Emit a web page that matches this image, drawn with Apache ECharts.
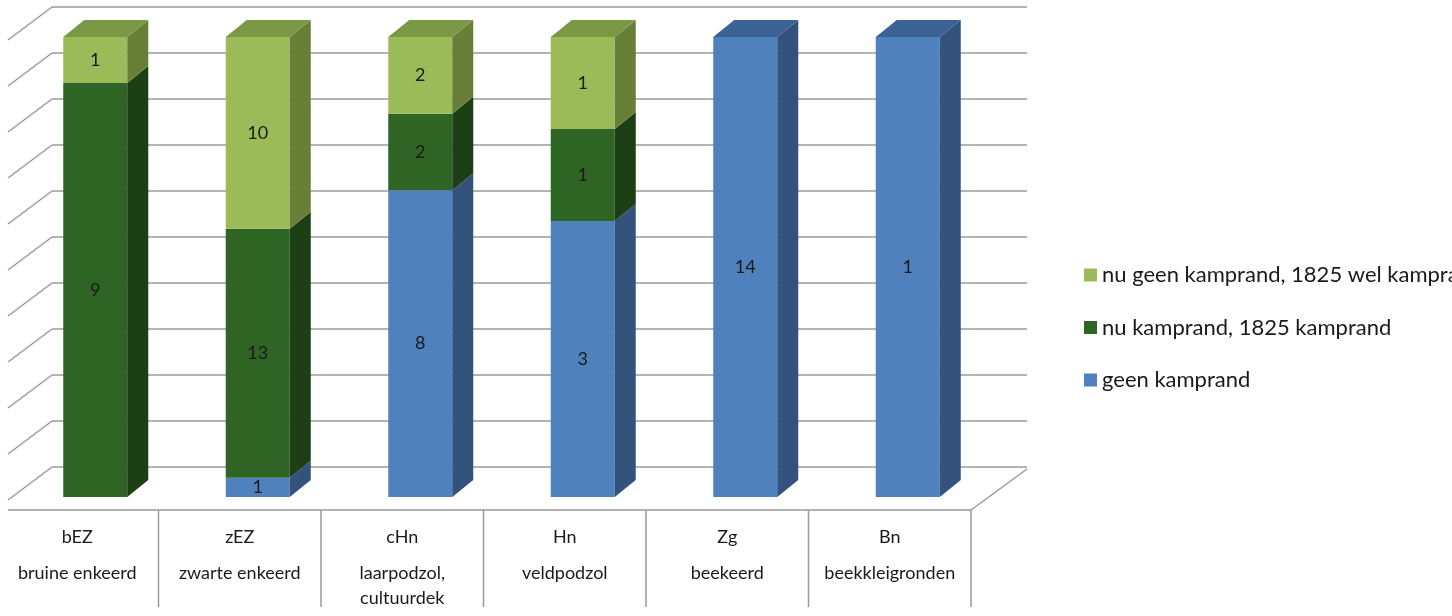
<!DOCTYPE html>
<html>
<head>
<meta charset="utf-8">
<script src="https://cdn.jsdelivr.net/npm/echarts@6/dist/echarts.min.js"></script>
<style>
html,body{margin:0;padding:0;background:#fff;}
#chart{width:1452px;height:616px;}
</style>
</head>
<body>
<div id="chart"></div>
<script>
// ---- data ----
const categories = ['bEZ', 'zEZ', 'cHn', 'Hn', 'Zg', 'Bn'];
const categoryNames = ['bruine enkeerd', 'zwarte enkeerd', 'laarpodzol,\ncultuurdek', 'veldpodzol', 'beekeerd', 'beekkleigronden'];
const seriesNames = ['geen kamprand', 'nu kamprand, 1825 kamprand', 'nu geen kamprand, 1825 wel kamprand'];
const geenKamprand = [0, 1, 8, 3, 14, 1];
const nuKamprand = [9, 13, 2, 1, 0, 0];
const nuGeenWelKamprand = [1, 10, 2, 1, 0, 0];
const gridTicks = [0, 10, 20, 30, 40, 50, 60, 70, 80, 90, 100];

// ---- styling ----
const FRONT = ['#4F81BD', '#2E6524', '#9BBB59'];
const SIDE = ['#33537C', '#1C3F16', '#687F38'];
const TOP = ['#3C6194', '#25541D', '#7B9846'];
const DX = 21, DY = -17, BAR_OFF = 18, BAR_W = 64;
const FONT = 'Lato, "Open Sans", sans-serif';

const all = [geenKamprand, nuKamprand, nuGeenWelKamprand];
const totals = categories.map((c, i) => all.reduce((s, a) => s + a[i], 0));

function seriesData(si) {
  return categories.map((c, i) => {
    let before = 0;
    for (let k = 0; k < si; k++) before += all[k][i];
    const v = all[si][i];
    let isTop = 1;
    for (let k = si + 1; k < all.length; k++) if (all[k][i] > 0) isTop = 0;
    return [i, before / totals[i] * 100, (before + v) / totals[i] * 100, v, isTop];
  });
}

function makeRender(si) {
  return function (params, api) {
    const cat = api.value(0), y0 = api.value(1), y1 = api.value(2), cnt = api.value(3), isTop = api.value(4);
    if (!cnt) return null;
    const t = api.coord([cat, y1]);
    const b = api.coord([cat, y0]);
    const cx = t[0] + BAR_OFF;
    const L = cx - BAR_W / 2, R = cx + BAR_W / 2;
    const yt = t[1], yb = b[1];
    const children = [
      { type: 'rect', shape: { x: L, y: yt, width: BAR_W, height: yb - yt }, style: { fill: FRONT[si] } },
      { type: 'polygon', shape: { points: [[R, yt], [R + DX, yt + DY], [R + DX, yb + DY], [R, yb]] }, style: { fill: SIDE[si] } }
    ];
    if (isTop) {
      children.push({ type: 'polygon', shape: { points: [[L, yt], [R, yt], [R + DX, yt + DY], [L + DX, yt + DY]] }, style: { fill: TOP[si] } });
    }
    children.push({ type: 'text', style: { text: String(cnt), x: cx, y: (yt + yb) / 2, align: 'center', verticalAlign: 'middle', fill: '#1a1a1a', fontSize: 18, fontFamily: FONT } });
    return { type: 'group', children: children };
  };
}

function renderWalls(params, api) {
  const cs = params.coordSys;
  const v = api.value(1);
  const fy = api.coord([0, v])[1];
  const lineStyle = { stroke: '#9a9a9a', lineWidth: 1.5, fill: null };
  const children = [
    { type: 'line', shape: { x1: cs.x + 56, y1: fy - 30, x2: cs.x + cs.width + 56, y2: fy - 30 }, style: lineStyle },
    { type: 'line', shape: { x1: cs.x + 12, y1: fy + 3, x2: cs.x + 56, y2: fy - 30 }, style: lineStyle }
  ];
  if (v === 0) {
    const fl = cs.y + cs.height + 13;
    children.push({ type: 'line', shape: { x1: cs.x + 12, y1: fl, x2: cs.x + cs.width, y2: fl }, style: lineStyle });
    children.push({ type: 'line', shape: { x1: cs.x + cs.width, y1: fl, x2: cs.x + cs.width + 56, y2: fl - 41 }, style: lineStyle });
    const bw = api.size([1, 0])[0];
    for (let k = 1; k <= categories.length; k++) {
      const x = cs.x + k * bw;
      children.push({ type: 'line', shape: { x1: x, y1: fl, x2: x, y2: fl + 97 }, style: lineStyle });
    }
  }
  return { type: 'group', children: children };
}

const chart = echarts.init(document.getElementById('chart'), null, { renderer: 'canvas' });

const series = [{
  type: 'custom', name: 'walls', coordinateSystem: 'cartesian2d', silent: true, z: 1,
  renderItem: renderWalls,
  data: gridTicks.map(t => [0, t]),
  encode: { x: 0, y: 1 }
}];
seriesNames.forEach((n, si) => {
  series.push({
    type: 'custom', name: n, coordinateSystem: 'cartesian2d', z: 2 + si,
    itemStyle: { color: FRONT[si] },
    renderItem: makeRender(si),
    data: seriesData(si),
    encode: { x: 0, y: [1, 2] }
  });
});

function axisLabelFormatter(value, idx) {
  const nameLines = categoryNames[idx].split('\n').map(s => '{n|' + s + '}').join('\n');
  return '{c|' + value + '}\n' + nameLines;
}

chart.setOption({
  animation: false,
  backgroundColor: '#fff',
  grid: { left: -4, top: 37, width: 975, height: 460, containLabel: false, outerBoundsMode: 'none' },
  xAxis: [{
    type: 'category', data: categories, position: 'bottom', offset: 13,
    axisLine: { show: false },
    axisTick: { show: false },
    axisLabel: {
      margin: 3.5, interval: 0, formatter: axisLabelFormatter,
      rich: {
        c: { color: '#1a1a1a', fontSize: 18, lineHeight: 47, fontFamily: FONT },
        n: { color: '#1a1a1a', fontSize: 18, lineHeight: 25, fontFamily: FONT }
      }
    }
  }],
  yAxis: { type: 'value', min: 0, max: 100, show: false, splitLine: { show: false } },
  legend: {
    orient: 'vertical', left: 1084, top: 264, padding: 0,
    data: [seriesNames[2], seriesNames[1], seriesNames[0]],
    icon: 'rect', itemWidth: 13, itemHeight: 13, itemGap: 30.5,
    textStyle: { color: '#1a1a1a', fontSize: 22, lineHeight: 20, fontFamily: FONT }
  },
  series: series
});
</script>
</body>
</html>
